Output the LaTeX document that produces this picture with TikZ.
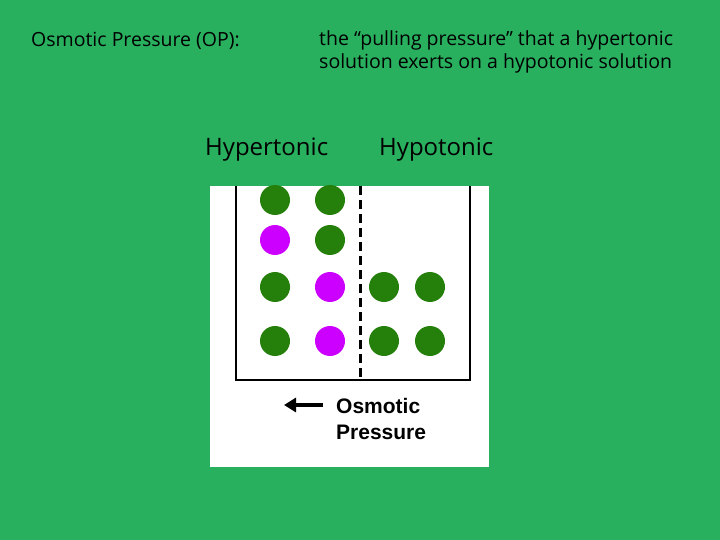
\documentclass[tikz,border=0pt]{standalone}
\usepackage{fontspec}
\setmainfont{Open Sans}
\newfontfamily\arialf{Liberation Sans}
\usetikzlibrary{arrows.meta}
\definecolor{bg}{RGB}{41,176,94}
\definecolor{dg}{RGB}{37,128,11}
\definecolor{pu}{RGB}{204,0,255}
\tikzset{gdot/.style={circle,fill=dg,minimum size=30pt,inner sep=0pt},
pdot/.style={circle,fill=pu,minimum size=30pt,inner sep=0pt},
lbl/.style={anchor=west,inner sep=0pt,font=\fontsize{19.5pt}{23pt}\selectfont}}
\begin{document}
\begin{tikzpicture}[x=1pt,y=-1pt]
\fill[bg] (0,0) rectangle (720,540);
\useasboundingbox (0,0) rectangle (720,540);
\fill[white] (210,186) rectangle (489,467);
\node[lbl] (op) at (31,41) {Osmotic Pressure (OP):};
\node[lbl,align=left] (def) at (319,52) {the “pulling pressure” that a hypertonic\\solution exerts on a hypotonic solution};
\node[lbl,font=\fontsize{24pt}{28pt}\selectfont] (hyper) at (205,150) {Hypertonic};
\node[lbl,font=\fontsize{24pt}{28pt}\selectfont] (hypo) at (379,150) {Hypotonic};
\draw[line width=2.2pt] (236,186) -- (236,380) -- (470,380) -- (470,186);
\draw[line width=3pt,dash pattern=on 9pt off 5pt] (360,186) -- (360,379);
\node[gdot] (a1) at (275,200) {}; \node[gdot] (a2) at (330,200) {};
\node[pdot] (b1) at (275,240) {}; \node[gdot] (b2) at (330,240) {};
\node[gdot] (c1) at (275,287) {}; \node[pdot] (c2) at (330,287) {};
\node[gdot] (c3) at (384,287) {}; \node[gdot] (c4) at (430,287) {};
\node[gdot] (d1) at (275,341) {}; \node[pdot] (d2) at (330,341) {};
\node[gdot] (d3) at (384,341) {}; \node[gdot] (d4) at (430,341) {};
\coordinate (as) at (323,405); \coordinate (ae) at (284,405);
\draw[line width=3.5pt,-{Triangle[length=12pt,width=14pt]}] (as) -- (ae);
\node[anchor=west,inner sep=0pt,align=left,font=\arialf\bfseries\fontsize{21pt}{26pt}\selectfont] (osm) at (336,419) {Osmotic\\Pressure};
\end{tikzpicture}
\end{document}
